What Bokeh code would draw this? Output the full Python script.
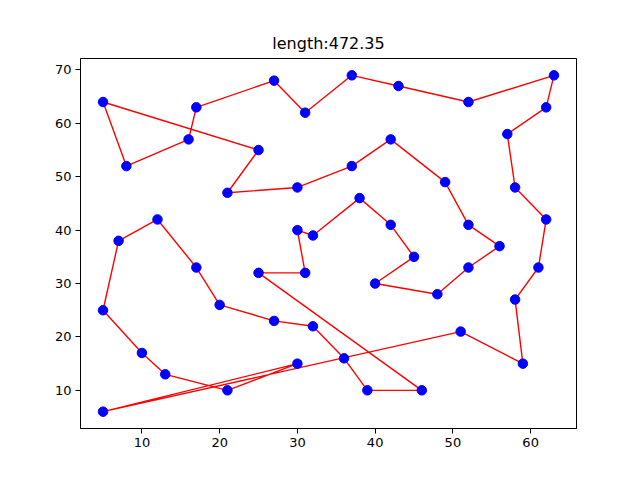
from bokeh.plotting import figure
from bokeh.models import FixedTicker, Range1d
from bokeh.embed import file_html
from bokeh.resources import INLINE

# Tour (eil51 cities) in visiting order
tour_x = [5, 8, 16, 17, 27, 31, 37, 43, 52, 63, 62, 57, 58, 62, 61, 58, 59, 51,
          5, 30, 21, 13, 10, 5, 7, 12, 17, 20, 27, 32, 36, 39, 46, 25, 31, 30,
          32, 38, 42, 45, 40, 48, 52, 56, 52, 49, 42, 37, 30, 21, 25]
tour_y = [64, 52, 57, 63, 68, 62, 69, 67, 64, 69, 63, 58, 48, 42, 33, 27, 15, 21,
          6, 15, 10, 13, 17, 25, 38, 42, 33, 26, 23, 22, 16, 10, 10, 32, 32, 40,
          39, 46, 41, 35, 30, 28, 33, 37, 41, 49, 57, 52, 48, 47, 55]
title_text = "length:472.35"
x_ticks = [10, 20, 30, 40, 50, 60]
y_ticks = [10, 20, 30, 40, 50, 60, 70]

line_x = tour_x + [tour_x[0]]
line_y = tour_y + [tour_y[0]]

xmin, xmax = min(tour_x), max(tour_x)
ymin, ymax = min(tour_y), max(tour_y)
mx = (xmax - xmin) * 0.05
my = (ymax - ymin) * 0.05

p = figure(width=632, height=472, output_backend="svg", toolbar_location=None,
           x_range=Range1d(xmin - mx, xmax + mx), y_range=Range1d(ymin - my, ymax + my),
           min_border_left=80, min_border_right=56, min_border_top=58, min_border_bottom=44,
           title=title_text)

p.title.align = "center"
p.title.text_font = "DejaVu Sans"
p.title.text_font_size = "16px"
p.title.text_font_style = "normal"
p.title.text_color = "black"
p.title.standoff = 12

p.grid.visible = False
p.outline_line_color = "black"
p.outline_line_alpha = 1.0
p.outline_line_width = 1

for ax in (p.xaxis[0], p.yaxis[0]):
    ax.major_label_text_font = "DejaVu Sans"
    ax.major_label_text_font_size = "13px"
    ax.major_label_text_color = "black"
    ax.major_tick_out = 5
    ax.major_tick_in = 0
    ax.minor_tick_out = 0
    ax.minor_tick_in = 0
    ax.axis_line_color = "black"
    ax.major_tick_line_color = "black"
    ax.major_label_standoff = 4

p.xaxis.ticker = FixedTicker(ticks=x_ticks)
p.yaxis.ticker = FixedTicker(ticks=y_ticks)

p.line(line_x, line_y, line_color="red", line_width=1.4)
p.scatter(tour_x, tour_y, size=9.5, fill_color="blue", line_color="blue", marker="circle")

open("out.html", "w").write(file_html(p, INLINE))
